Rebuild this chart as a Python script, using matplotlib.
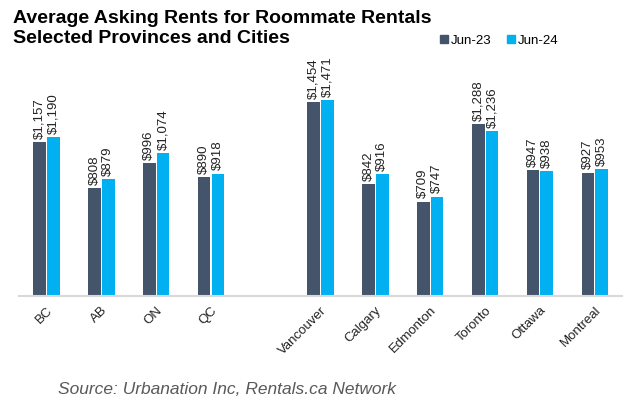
import matplotlib
matplotlib.use("Agg")
import matplotlib.pyplot as plt
import numpy as np

plt.rcParams['font.family'] = ['Liberation Sans', 'DejaVu Sans']

categories = ["BC", "AB", "ON", "QC", "", "Vancouver", "Calgary", "Edmonton", "Toronto", "Ottawa", "Montreal"]
jun23 = [1157, 808, 996, 890, None, 1454, 842, 709, 1288, 947, 927]
jun24 = [1190, 879, 1074, 918, None, 1471, 916, 747, 1236, 938, 953]

c23 = '#44546a'
c24 = '#00b0f0'

fig = plt.figure(figsize=(6.4, 4.08), dpi=100)
ax = fig.add_axes([0.03, 0.2745, 0.942, 0.555])

x = np.arange(len(categories))
w = 0.23
off = 0.125
for i in range(len(categories)):
    if jun23[i] is None:
        continue
    ax.bar(x[i] - off, jun23[i], w, color=c23)
    ax.bar(x[i] + off, jun24[i], w, color=c24)
    ax.text(x[i] - off, jun23[i] + 25, f"${jun23[i]:,}", rotation=90,
            ha='center', va='bottom', fontsize=9.5, color='#222222')
    ax.text(x[i] + off, jun24[i] + 25, f"${jun24[i]:,}", rotation=90,
            ha='center', va='bottom', fontsize=9.5, color='#222222')

ax.set_xlim(-0.5, 10.5)
ax.set_ylim(0, 1700)
ax.set_yticks([])
ax.set_xticks([i for i in x if categories[i]])
ax.set_xticklabels([c for c in categories if c], rotation=45, ha='right',
                   rotation_mode='anchor', fontsize=9.5, color='#222222')
ax.tick_params(axis='x', length=0, pad=6)
for s in ['top', 'right', 'left']:
    ax.spines[s].set_visible(False)
ax.spines['bottom'].set_color('#d9d9d9')
ax.spines['bottom'].set_linewidth(1.5)

fig.text(0.02, 0.975, "Average Asking Rents for Roommate Rentals\nSelected Provinces and Cities",
         fontsize=14, fontweight='bold', va='top', ha='left', linespacing=1.25)

h1 = plt.Line2D([], [], marker='s', linestyle='', color=c23, markersize=5.5)
h2 = plt.Line2D([], [], marker='s', linestyle='', color=c24, markersize=5.5)
fig.legend([h1, h2], ["Jun-23", "Jun-24"], loc='center left', bbox_to_anchor=(0.675, 0.9),
           ncol=2, frameon=False, fontsize=9.5, handletextpad=0.0, columnspacing=1.0,
           handlelength=1.0, borderaxespad=0)

fig.text(0.09, 0.045, "Source: Urbanation Inc, Rentals.ca Network", fontsize=12.5,
         style='italic', color='#595959', ha='left', va='center')

fig.savefig("out.png", dpi=100)
